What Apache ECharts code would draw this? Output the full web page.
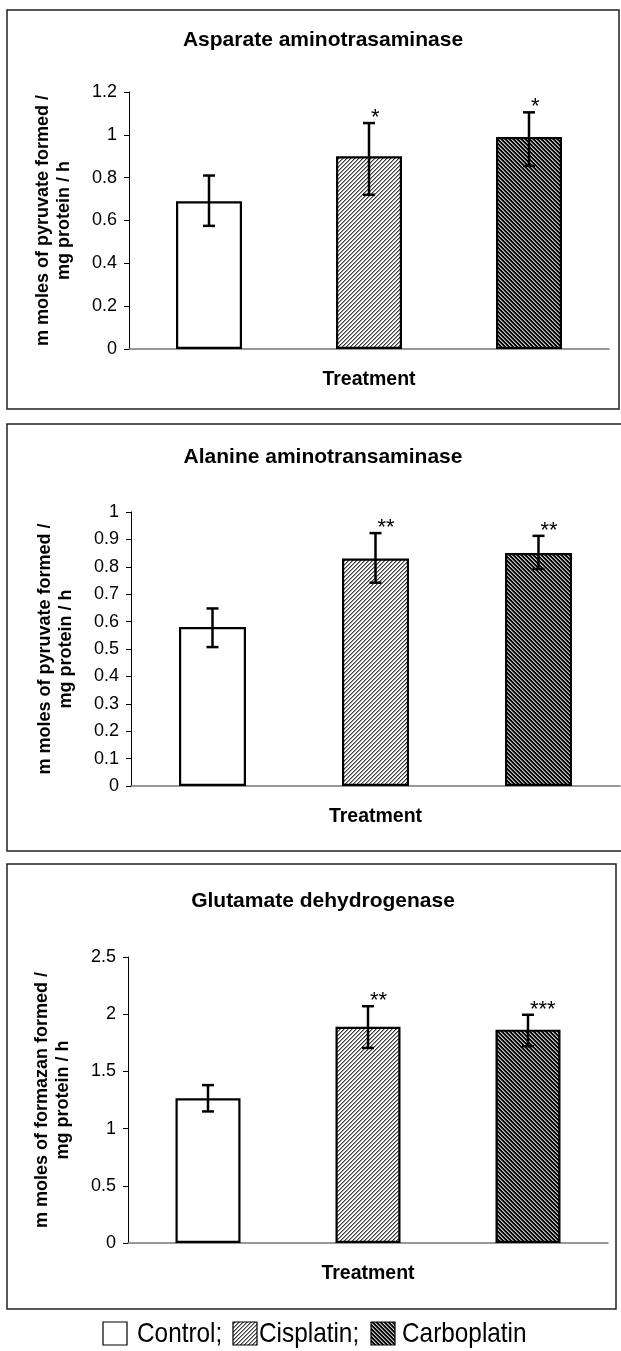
<!DOCTYPE html>
<html>
<head>
<meta charset="utf-8">
<script src="https://cdn.jsdelivr.net/npm/echarts@6/dist/echarts.min.js"></script>
<style>
  html, body { margin: 0; padding: 0; background: #fff; }
  #chart { width: 621px; height: 1351px; }
</style>
</head>
<body>
<div id="chart"></div>
<script>
  // groups (same in every panel)
  const categories = ['Control', 'Cisplatin', 'Carboplatin'];

  // Asparate aminotrasaminase
  const astValues = [0.69, 0.90, 0.99];
  const astLow = [0.575, 0.72, 0.855];
  const astHigh = [0.81, 1.055, 1.105];
  const astStars = ['', '*', '*'];
  const astTicks = { min: 0, max: 1.2, interval: 0.2 };

  // Alanine aminotransaminase
  const altValues = [0.58, 0.83, 0.85];
  const altLow = [0.507, 0.742, 0.792];
  const altHigh = [0.648, 0.923, 0.913];
  const altStars = ['', '**', '**'];
  const altTicks = { min: 0, max: 1, interval: 0.1 };

  // Glutamate dehydrogenase
  const gdhValues = [1.265, 1.89, 1.865];
  const gdhLow = [1.15, 1.705, 1.72];
  const gdhHigh = [1.38, 2.07, 1.995];
  const gdhStars = ['', '**', '***'];
  const gdhTicks = { min: 0, max: 2.5, interval: 0.5 };

  const FONT = '"Liberation Sans", Arial, sans-serif';

  // hatch fills
  function hatch(kind) {
    const c = document.createElement('canvas');
    c.width = 4; c.height = 4;
    const ctx = c.getContext('2d');
    for (let x = 0; x < 4; x++) {
      for (let y = 0; y < 4; y++) {
        let col;
        if (kind === 'light') {
          const k = (x + y) % 4;
          col = k === 0 ? '#3a3a3a' : (k === 1 ? '#9a9a9a' : '#ffffff');
        } else {
          const k = ((x - y) % 4 + 4) % 4;
          col = k === 0 ? '#c8c8c8' : (k === 1 ? '#707070' : '#000000');
        }
        ctx.fillStyle = col;
        ctx.fillRect(x, y, 1, 1);
      }
    }
    return { image: c, repeat: 'repeat' };
  }
  const fills = ['#ffffff', hatch('light'), hatch('dark')];

  // panel boxes: frame [left, top, right, bottom], plot grid
  const panels = [
    { name: 'Asparate aminotrasaminase', yName: 'm moles of pyruvate formed /\nmg protein / h',
      frame: [7, 10, 619, 409], grid: { left: 129, top: 92, width: 480, height: 257 }, titleTop: 25,
      values: astValues, low: astLow, high: astHigh, stars: astStars, ticks: astTicks, barWidth: 66 },
    { name: 'Alanine aminotransaminase', yName: 'm moles of pyruvate formed /\nmg protein / h',
      frame: [7, 424, 623, 851], grid: { left: 131, top: 512, width: 489, height: 274 }, titleTop: 442,
      values: altValues, low: altLow, high: altHigh, stars: altStars, ticks: altTicks, barWidth: 67 },
    { name: 'Glutamate dehydrogenase', yName: 'm moles of formazan formed /\nmg protein / h',
      frame: [7, 864, 616, 1309], grid: { left: 128, top: 957, width: 480, height: 286 }, titleTop: 886,
      values: gdhValues, low: gdhLow, high: gdhHigh, stars: gdhStars, ticks: gdhTicks, barWidth: 65 }
  ];

  const chart = echarts.init(document.getElementById('chart'), null, { renderer: 'canvas' });

  const grid = [], xAxis = [], yAxis = [], series = [], title = [], graphic = [];

  panels.forEach((p, gi) => {
    grid.push(Object.assign({ containLabel: false }, p.grid));

    title.push({
      text: p.name,
      left: 318,
      top: p.titleTop,
      textAlign: 'center',
      textStyle: { fontFamily: FONT, fontSize: 21, fontWeight: 'bold', color: '#000' }
    });

    xAxis.push({
      type: 'category',
      gridIndex: gi,
      data: categories,
      name: 'Treatment',
      nameLocation: 'middle',
      nameGap: 21,
      nameTextStyle: { fontFamily: FONT, fontSize: 19.5, fontWeight: 'bold', color: '#000' },
      axisLine: { lineStyle: { color: '#777', width: 1.5 } },
      axisTick: { show: false },
      axisLabel: { show: false }
    });

    yAxis.push({
      type: 'value',
      gridIndex: gi,
      min: p.ticks.min,
      max: p.ticks.max,
      interval: p.ticks.interval,
      name: p.yName,
      nameLocation: 'middle',
      nameGap: 54,
      nameTextStyle: { fontFamily: FONT, fontSize: 18, fontWeight: 'bold', color: '#000', lineHeight: 21, align: 'center' },
      axisLine: { show: true, lineStyle: { color: '#000', width: 1 } },
      axisTick: { show: true, length: 5, lineStyle: { color: '#000' } },
      axisLabel: { fontFamily: FONT, fontSize: 18, color: '#000', margin: 12 },
      splitLine: { show: false }
    });

    series.push({
      type: 'bar',
      xAxisIndex: gi,
      yAxisIndex: gi,
      barWidth: p.barWidth,
      data: p.values.map((v, i) => ({
        value: v,
        itemStyle: { color: fills[i], borderColor: '#000', borderWidth: 2.2 }
      })),
      silent: true,
      animation: false
    });

    // error bars + significance stars
    series.push({
      type: 'custom',
      xAxisIndex: gi,
      yAxisIndex: gi,
      data: categories.map((c, i) => [i, p.low[i], p.high[i]]),
      renderItem(params, api) {
        const i = params.dataIndex;
        const x = api.coord([api.value(0), 0])[0];
        const lo = api.coord([api.value(0), api.value(1)])[1];
        const hi = api.coord([api.value(0), api.value(2)])[1];
        const cap = 6;
        const st = { stroke: '#000', lineWidth: 2.5 };
        const children = [
          { type: 'line', shape: { x1: x, y1: lo, x2: x, y2: hi }, style: st },
          { type: 'line', shape: { x1: x - cap, y1: hi, x2: x + cap, y2: hi }, style: st },
          { type: 'line', shape: { x1: x - cap, y1: lo, x2: x + cap, y2: lo }, style: st }
        ];
        if (p.stars[i]) {
          children.push({
            type: 'text',
            style: {
              text: p.stars[i], x: x + 2, y: hi + 6,
              align: 'left', verticalAlign: 'bottom',
              font: '22px ' + FONT, fill: '#000'
            }
          });
        }
        return { type: 'group', children };
      },
      z: 5,
      silent: true,
      animation: false
    });

    const f = p.frame;
    graphic.push({
      type: 'rect',
      shape: { x: f[0], y: f[1], width: f[2] - f[0], height: f[3] - f[1] },
      style: { fill: 'none', stroke: '#222', lineWidth: 1.5 },
      z: -1, silent: true
    });
  });

  // legend line under the panels (narrow face imitated with scaleX)
  const legendFont = '28px "Liberation Sans", Arial, sans-serif';
  const legendItems = [
    { box: 103, text: 137, fill: fills[0], label: 'Control;' },
    { box: 233, text: 259, fill: fills[1], label: 'Cisplatin;' },
    { box: 371, text: 402, fill: fills[2], label: 'Carboplatin' }
  ];
  legendItems.forEach(it => {
    graphic.push({
      type: 'rect',
      shape: { x: it.box, y: 1322, width: 24, height: 23 },
      style: { fill: it.fill, stroke: '#000', lineWidth: 1.2 },
      silent: true
    });
    graphic.push({
      type: 'text',
      x: it.text,
      y: 1334,
      scaleX: 0.87,
      style: { text: it.label, x: 0, y: 0, verticalAlign: 'middle', font: legendFont, fill: '#000' },
      silent: true
    });
  });

  chart.setOption({
    backgroundColor: '#fff',
    animation: false,
    title,
    grid,
    xAxis,
    yAxis,
    series,
    graphic
  });
</script>
</body>
</html>
